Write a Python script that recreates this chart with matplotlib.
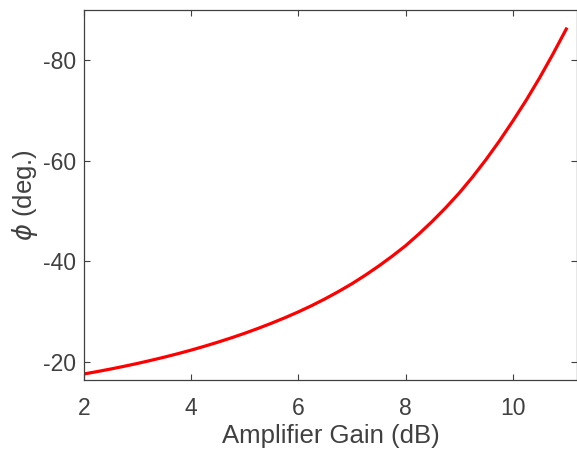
import matplotlib
matplotlib.use("Agg")
import matplotlib.pyplot as plt

# 증폭기 이득 (dB) 과 위상 (deg.) - 그림에서 읽은 값
gain_db = [2.00, 2.25, 2.50, 2.75, 3.00, 3.25, 3.50, 3.75, 4.00, 4.25,
           4.50, 4.75, 5.00, 5.25, 5.50, 5.75, 6.00, 6.25, 6.50, 6.75,
           7.00, 7.25, 7.50, 7.75, 8.00, 8.25, 8.50, 8.75, 9.00, 9.25,
           9.50, 9.75, 10.00, 10.25, 10.50, 10.75, 11.00]
phase_deg = [-17.60, -18.08, -18.59, -19.13, -19.70, -20.31, -20.95, -21.63, -22.35, -23.12,
             -23.93, -24.79, -25.70, -26.67, -27.70, -28.79, -29.95, -31.20, -32.55, -34.00,
             -35.55, -37.25, -39.07, -41.02, -43.10, -45.45, -47.97, -50.67, -53.57, -56.77,
             -60.22, -63.92, -67.87, -72.02, -76.47, -81.22, -86.22]

x_ticks = [2, 4, 6, 8, 10]
y_ticks = [-80, -60, -40, -20]

plt.rcParams['font.family'] = ['Liberation Sans', 'DejaVu Sans']
plt.rcParams['mathtext.fontset'] = 'dejavusans'
plt.rcParams['axes.unicode_minus'] = False

txt_color = "#404040"

fig = plt.figure(figsize=(5.77, 4.54), dpi=100)
ax = fig.add_axes([0.1456, 0.163, 0.8544, 0.815])

ax.plot(gain_db, phase_deg, color="#ff0000", linewidth=2.3)

ax.set_xlim(2, 11.2)
ax.set_ylim(-16.4, -90)
ax.set_xticks(x_ticks)
ax.set_yticks(y_ticks)

ax.tick_params(direction="in", length=4, width=0.8, colors=txt_color,
               labelsize=16.5, top=True, right=True)
ax.tick_params(axis="x", pad=12)
ax.tick_params(axis="y", pad=6)
for sp in ax.spines.values():
    sp.set_color(txt_color)
    sp.set_linewidth(0.9)

ax.set_xlabel("Amplifier Gain (dB)", fontsize=18.5, color=txt_color, labelpad=3)
ax.set_ylabel(r"$\phi$ (deg.)", fontsize=18.5, color=txt_color, labelpad=2)

fig.savefig("out.png", dpi=100)
